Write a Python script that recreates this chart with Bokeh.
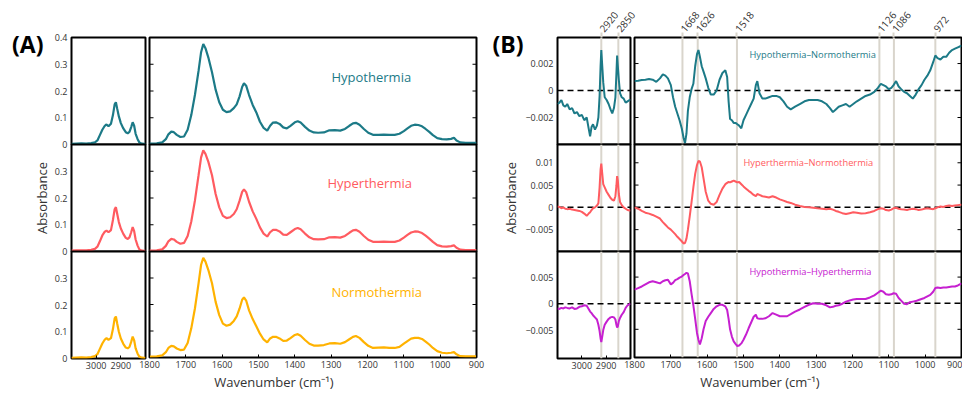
from bokeh.plotting import figure
from bokeh.layouts import row, column
from bokeh.models import (Range1d, FixedTicker, LinearAxis, Span, CustomJSTickFormatter)
from bokeh.embed import file_html
from bokeh.resources import INLINE

# ---------------- data (A) ----------------
wn_ch = [3100, 3080, 3060, 3040, 3020, 3005, 2995, 2985, 2975, 2965, 2958, 2950, 2940, 2932, 2925, 2920,
         2915, 2908, 2900, 2890, 2880, 2872, 2865, 2858, 2852, 2846, 2840, 2832, 2825, 2815, 2805, 2800]
hypo_ch = [0.002, 0.003, 0.004, 0.003, 0.005, 0.008, 0.015, 0.035, 0.055, 0.070, 0.075, 0.068, 0.078, 0.110, 0.150, 0.158,
           0.135, 0.105, 0.080, 0.060, 0.046, 0.042, 0.047, 0.065, 0.083, 0.070, 0.040, 0.020, 0.008, 0.003, 0.002, 0.002]
hyper_ch = [0.003, 0.004, 0.004, 0.004, 0.006, 0.010, 0.018, 0.038, 0.060, 0.074, 0.078, 0.072, 0.080, 0.118, 0.158, 0.166,
            0.142, 0.110, 0.086, 0.066, 0.051, 0.047, 0.053, 0.072, 0.091, 0.076, 0.045, 0.022, 0.008, 0.003, 0.002, 0.002]
normo_ch = [0.002, 0.003, 0.004, 0.003, 0.005, 0.009, 0.016, 0.036, 0.056, 0.071, 0.076, 0.070, 0.076, 0.110, 0.150, 0.157,
            0.132, 0.100, 0.075, 0.055, 0.041, 0.038, 0.043, 0.062, 0.082, 0.068, 0.038, 0.018, 0.007, 0.003, 0.002, 0.002]

wn_fp = [1800, 1780, 1765, 1755, 1748, 1740, 1733, 1725, 1715, 1705,
         1695, 1685, 1675, 1665, 1658, 1652, 1646, 1638, 1628, 1618,
         1608, 1598, 1588, 1578, 1568, 1560, 1552, 1545, 1540, 1534,
         1526, 1516, 1506, 1496, 1486, 1476, 1468, 1460, 1452, 1442,
         1432, 1422, 1412, 1400, 1392, 1384, 1372, 1360, 1348, 1336,
         1320, 1305, 1290, 1275, 1262, 1250, 1240, 1232, 1222, 1210,
         1198, 1185, 1170, 1155, 1140, 1125, 1112, 1100, 1090, 1080,
         1070, 1060, 1050, 1040, 1030, 1020, 1008, 995, 982, 970,
         962, 955, 945, 930, 915, 900]
hypo_fp = [0.003, 0.004, 0.008, 0.020, 0.038, 0.048, 0.046, 0.036, 0.028, 0.030,
           0.055, 0.110, 0.185, 0.275, 0.345, 0.376, 0.360, 0.325, 0.270, 0.205,
           0.158, 0.130, 0.121, 0.124, 0.136, 0.150, 0.180, 0.215, 0.229, 0.220,
           0.185, 0.148, 0.120, 0.085, 0.062, 0.052, 0.070, 0.082, 0.083, 0.077,
           0.064, 0.060, 0.070, 0.083, 0.087, 0.082, 0.066, 0.052, 0.045, 0.044,
           0.045, 0.053, 0.054, 0.052, 0.058, 0.070, 0.079, 0.081, 0.074, 0.058,
           0.044, 0.036, 0.036, 0.037, 0.036, 0.036, 0.040, 0.050, 0.060, 0.070,
           0.074, 0.073, 0.068, 0.058, 0.047, 0.035, 0.024, 0.020, 0.019, 0.021,
           0.025, 0.015, 0.008, 0.006, 0.006, 0.006]
hyper_fp = [0.003, 0.004, 0.008, 0.021, 0.038, 0.047, 0.045, 0.036, 0.029, 0.032,
            0.058, 0.112, 0.190, 0.285, 0.352, 0.378, 0.365, 0.335, 0.285, 0.215,
            0.165, 0.133, 0.125, 0.128, 0.140, 0.158, 0.190, 0.223, 0.232, 0.222,
            0.186, 0.150, 0.122, 0.090, 0.067, 0.056, 0.072, 0.081, 0.081, 0.075,
            0.063, 0.062, 0.072, 0.084, 0.088, 0.083, 0.067, 0.053, 0.046, 0.045,
            0.046, 0.053, 0.054, 0.052, 0.058, 0.070, 0.079, 0.081, 0.074, 0.058,
            0.044, 0.036, 0.036, 0.037, 0.036, 0.036, 0.041, 0.052, 0.062, 0.071,
            0.075, 0.074, 0.069, 0.059, 0.048, 0.036, 0.024, 0.019, 0.018, 0.020,
            0.023, 0.014, 0.007, 0.005, 0.005, 0.005]
normo_fp = [0.003, 0.004, 0.008, 0.020, 0.036, 0.044, 0.042, 0.034, 0.028, 0.030,
            0.055, 0.110, 0.185, 0.280, 0.350, 0.376, 0.362, 0.330, 0.280, 0.210,
            0.160, 0.128, 0.120, 0.124, 0.138, 0.155, 0.185, 0.218, 0.227, 0.215,
            0.178, 0.145, 0.118, 0.090, 0.068, 0.057, 0.072, 0.078, 0.078, 0.072,
            0.063, 0.064, 0.073, 0.085, 0.088, 0.082, 0.066, 0.052, 0.045, 0.045,
            0.047, 0.053, 0.054, 0.052, 0.058, 0.069, 0.078, 0.081, 0.074, 0.058,
            0.044, 0.036, 0.037, 0.038, 0.036, 0.036, 0.040, 0.052, 0.062, 0.071,
            0.074, 0.074, 0.070, 0.060, 0.049, 0.036, 0.024, 0.018, 0.016, 0.018,
            0.020, 0.012, 0.005, 0.004, 0.004, 0.004]

# ---------------- data (B) ----------------
wn_ch_b = [3100, 3092, 3084, 3076, 3068, 3060, 3050, 3040, 3030, 3020,
           3010, 3000, 2990, 2980, 2972, 2966, 2960, 2954, 2946, 2938,
           2932, 2927, 2923, 2920, 2916, 2912, 2906, 2898, 2890, 2882,
           2875, 2868, 2862, 2858, 2855, 2852, 2848, 2843, 2836, 2828,
           2820, 2812, 2804, 2800]
hn_ch = [-0.0010, -0.0009, -0.0007, -0.0011, -0.0012, -0.0010, -0.0014, -0.0013, -0.0017, -0.0016,
         -0.0019, -0.0018, -0.0022, -0.0020, -0.0028, -0.0034, -0.0027, -0.0025, -0.0029, -0.0026,
         -0.0020, -0.0004, 0.0018, 0.0030, 0.0018, 0.0006, -0.0005, -0.0007, -0.0010, -0.0014,
         -0.0017, -0.0013, -0.0005, 0.0012, 0.0026, 0.0018, 0.0008, -0.0002, -0.0005, -0.0006,
         -0.0009, -0.0008, -0.0007, -0.0007]
hyn_ch = [0.0002, 0.0001, -0.0002, 0.0000, -0.0003, -0.0004, -0.0003, -0.0005, -0.0006, -0.0007,
          -0.0008, -0.0010, -0.0014, -0.0019, -0.0014, -0.0011, -0.0006, -0.0002, 0.0000, 0.0004,
          0.0009, 0.0045, 0.0085, 0.0098, 0.0075, 0.0052, 0.0045, 0.0035, 0.0028, 0.0021,
          0.0017, 0.0015, 0.0025, 0.0048, 0.0070, 0.0060, 0.0030, 0.0012, 0.0005, 0.0000,
          -0.0003, -0.0006, -0.0007, -0.0007]
hh_ch = [-0.0009, -0.0010, -0.0008, -0.0009, -0.0007, -0.0008, -0.0009, -0.0007, -0.0010, -0.0009,
         -0.0006, -0.0005, -0.0003, -0.0004, -0.0010, -0.0015, -0.0018, -0.0022, -0.0026, -0.0030,
         -0.0040, -0.0052, -0.0066, -0.0073, -0.0062, -0.0050, -0.0040, -0.0034, -0.0029, -0.0026,
         -0.0025, -0.0026, -0.0030, -0.0040, -0.0045, -0.0043, -0.0033, -0.0027, -0.0021, -0.0016,
         -0.0008, -0.0003, -0.0001, 0.0000]

wn_fp_b = [1800, 1790, 1780, 1770, 1760, 1750, 1740, 1730, 1722, 1715,
           1708, 1700, 1694, 1688, 1682, 1676, 1670, 1665, 1661, 1657,
           1653, 1648, 1643, 1638, 1633, 1628, 1624, 1620, 1615, 1610,
           1604, 1597, 1590, 1582, 1574, 1566, 1558, 1550, 1545, 1541,
           1537, 1532, 1527, 1522, 1517, 1512, 1506, 1500, 1493, 1486,
           1479, 1472, 1466, 1462, 1456, 1448, 1440, 1430, 1420, 1410,
           1400, 1390, 1380, 1370, 1358, 1345, 1332, 1320, 1308, 1296,
           1284, 1272, 1262, 1254, 1246, 1238, 1228, 1218, 1208, 1198,
           1188, 1176, 1164, 1152, 1140, 1130, 1122, 1115, 1108, 1100,
           1093, 1087, 1080, 1073, 1066, 1058, 1050, 1042, 1034, 1026,
           1018, 1010, 1002, 994, 986, 978, 972, 966, 958, 950,
           942, 934, 926, 918, 910, 902, 900]
hn_fp = [0.0007, 0.00072, 0.00078, 0.0008, 0.00085, 0.0008, 0.00065, 0.0009, 0.0012, 0.0011,
         0.0009, 0.0004, -0.0005, -0.0012, -0.0017, -0.0022, -0.0028, -0.0035, -0.0039, -0.0032,
         -0.0015, -0.0005, 0.0001, 0.0005, 0.0018, 0.0027, 0.0030, 0.0025, 0.0018, 0.0014,
         0.0009, 0.0002, -0.0003, -0.0003, 0.0000, 0.0008, 0.0013, 0.0015, 0.0010, -0.0008,
         -0.0021, -0.0022, -0.0024, -0.0024, -0.0025, -0.0026, -0.0028, -0.0022, -0.0018, -0.0014,
         -0.0010, -0.0006, 0.0004, 0.0007, -0.0002, -0.0006, -0.0006, -0.0005, -0.0004, -0.0004,
         -0.0005, -0.0008, -0.0012, -0.0014, -0.0012, -0.0010, -0.0008, -0.0007, -0.0007, -0.0007,
         -0.0008, -0.0010, -0.0013, -0.0016, -0.0014, -0.0012, -0.0011, -0.0010, -0.0012, -0.0010,
         -0.0008, -0.0006, -0.0004, -0.0003, -0.0001, 0.0002, 0.0005, 0.0004, 0.0003, 0.0001,
         0.0002, 0.0004, 0.0007, 0.0003, 0.0001, -0.0001, -0.0002, -0.0004, -0.0006, -0.0003,
         0.0001, 0.0004, 0.0008, 0.0011, 0.0015, 0.0021, 0.0026, 0.0024, 0.0023, 0.0025,
         0.0025, 0.0028, 0.0030, 0.0031, 0.0032, 0.0033, 0.0033]
hyn_fp = [0.0000, -0.0003, -0.0008, -0.0012, -0.0014, -0.0017, -0.0021, -0.0025, -0.0033, -0.0039,
          -0.0045, -0.0050, -0.0055, -0.0060, -0.0066, -0.0071, -0.0076, -0.0081, -0.0080, -0.0070,
          -0.0050, -0.0020, 0.0012, 0.0045, 0.0075, 0.0095, 0.0104, 0.0103, 0.0090, 0.0065,
          0.0035, 0.0015, 0.0008, 0.0006, 0.0012, 0.0028, 0.0042, 0.0052, 0.0055, 0.0057,
          0.0056, 0.0058, 0.0060, 0.0058, 0.0056, 0.0057, 0.0052, 0.0047, 0.0042, 0.0037,
          0.0033, 0.0028, 0.0025, 0.0030, 0.0028, 0.0025, 0.0024, 0.0022, 0.0025, 0.0022,
          0.0018, 0.0015, 0.0012, 0.0010, 0.0006, 0.0003, 0.0001, 0.0000, -0.0001, -0.0002,
          -0.0003, -0.0004, -0.0003, -0.0005, -0.0008, -0.0010, -0.0013, -0.0015, -0.0013, -0.0011,
          -0.0012, -0.0014, -0.0013, -0.0011, -0.0008, -0.0004, -0.0002, -0.0003, -0.0006, -0.0007,
          -0.0005, -0.0002, -0.0001, -0.0003, -0.0004, -0.0005, -0.0006, -0.0004, -0.0003, -0.0004,
          -0.0006, -0.0005, -0.0003, -0.0002, -0.0003, -0.0004, -0.0002, 0.0000, 0.0002, 0.0001,
          0.0003, 0.0004, 0.0003, 0.0004, 0.0005, 0.0006, 0.0006]
hh_fp = [0.0026, 0.0029, 0.0032, 0.0036, 0.0040, 0.0042, 0.0040, 0.0038, 0.0042, 0.0044,
         0.0045, 0.0036, 0.0039, 0.0044, 0.0046, 0.0049, 0.0051, 0.0054, 0.0056, 0.0058,
         0.0057, 0.0042, 0.0018, -0.0004, -0.0030, -0.0057, -0.0070, -0.0079, -0.0067, -0.0050,
         -0.0034, -0.0026, -0.0019, -0.0011, -0.0006, -0.0003, -0.0003, -0.0006, -0.0013, -0.0030,
         -0.0050, -0.0064, -0.0073, -0.0078, -0.0082, -0.0081, -0.0077, -0.0070, -0.0060, -0.0048,
         -0.0037, -0.0026, -0.0022, -0.0029, -0.0030, -0.0030, -0.0029, -0.0025, -0.0019, -0.0022,
         -0.0025, -0.0025, -0.0025, -0.0021, -0.0016, -0.0012, -0.0007, -0.0003, 0.0000, -0.0001,
         -0.0001, -0.0004, -0.0008, -0.0007, -0.0005, -0.0004, -0.0001, 0.0003, 0.0005, 0.0007,
         0.0008, 0.0008, 0.0008, 0.0011, 0.0015, 0.0020, 0.0024, 0.0022, 0.0017, 0.0016,
         0.0017, 0.0019, 0.0018, 0.0010, 0.0005, -0.0001, -0.0002, 0.0002, 0.0003, 0.0004,
         0.0006, 0.0008, 0.0010, 0.0013, 0.0016, 0.0022, 0.0029, 0.0030, 0.0029, 0.0030,
         0.0030, 0.0031, 0.0032, 0.0032, 0.0034, 0.0037, 0.0037]

markers_ch = [2920, 2850]
markers_fp = [1668, 1626, 1518, 1126, 1086, 972]

a_names = ["Hypothermia", "Hyperthermia", "Normothermia"]
b_names = ["Hypothermia\u2013Normothermia", "Hyperthermia\u2013Normothermia", "Hypothermia\u2013Hyperthermia"]

a_yticks = [[0, 0.1, 0.2, 0.3, 0.4], [0, 0.1, 0.2, 0.3], [0, 0.1, 0.2, 0.3]]
b_yticks = [[-0.002, 0, 0.002], [-0.005, 0, 0.005, 0.01], [-0.005, 0, 0.005]]
ch_xticks = [3000, 2900]
fp_xticks = [1800, 1700, 1600, 1500, 1400, 1300, 1200, 1100, 1000, 900]
x_label = "Wavenumber (cm\u207b\u00b9)"
y_label = "Absorbance"

# ---------------- style / layout ----------------
TEAL = "#1c7a87"
RED = "#ff5b60"
ORANGE = "#ffb200"
MAGENTA = "#c620d0"
GRAY = "#d9d5cc"
TXT = "#333333"
FONT = "Open Sans"
MARK_ANGLE = 0.88

a_colors = [TEAL, RED, ORANGE]
b_colors = [TEAL, RED, MAGENTA]

ch_range = (3100, 2800)
fp_range = (1800, 900)
a_yr = [(0, 0.4), (0, 0.4), (0, 0.4)]
b_yr = [(-0.004, 0.00393), (-0.0099, 0.0141), (-0.0104, 0.0099)]

# (border_left, frame_width, border_right, margin_left) for the four columns
COLS = [(71, 74, 2, 0), (12, 327, 56, -10), (79, 73, 12, -54), (12, 327, 1, -20)]
FRAME_LEFT = [71, 149, 557, 634]
# (border_top, frame_height, border_bottom, margin_top) for the three rows
ROWS = [(37, 107, 8, 0), (8, 107, 8, -16), (8, 107, 35, -16)]
FRAME_TOP = [37, 144, 251]

Y_CODE = """
if (Math.abs(tick) < 1e-12) { return "0"; }
const s = String(parseFloat(Math.abs(tick).toPrecision(6)));
return (tick < 0 ? "\\u2212" : "") + s;
"""


def text_fmt(txt):
    return CustomJSTickFormatter(args=dict(txt=txt), code="return txt;")


def make_fig(ci, ri, xr, yr):
    bl, fw, br, _ = COLS[ci]
    bt, fh, bb, mt = ROWS[ri]
    p = figure(width=bl + fw + br, height=bt + fh + bb,
               x_range=Range1d(*xr), y_range=Range1d(*yr),
               x_axis_type=None, y_axis_type=None, output_backend="svg",
               toolbar_location=None, min_border_left=bl, min_border_right=br,
               min_border_top=bt, min_border_bottom=bb, margin=(mt, 0, 0, 0))
    p.outline_line_color = "black"
    p.outline_line_width = 2
    p.outline_line_alpha = 1.0
    p.background_fill_color = "white"
    p.border_fill_color = None
    return p


def add_axis(p, side, ticks, fmt=None, font_size="9px", tick_in=0, tick_out=0,
             tick_color="black", tick_width=1, standoff=4, bold=False,
             color=TXT, orientation=None, label=None, label_standoff=1):
    ax = LinearAxis(ticker=FixedTicker(ticks=ticks, minor_ticks=[]))
    ax.axis_line_color = None
    ax.major_tick_in = tick_in
    ax.major_tick_out = tick_out
    ax.major_tick_line_color = tick_color
    ax.major_tick_line_width = tick_width
    ax.minor_tick_line_color = None
    if fmt is not None:
        ax.formatter = fmt
    ax.major_label_text_font = FONT
    ax.major_label_text_font_size = font_size
    ax.major_label_text_color = color
    ax.major_label_standoff = standoff
    if bold:
        ax.major_label_text_font_style = "bold"
    if orientation is not None:
        ax.major_label_orientation = orientation
    if label:
        ax.axis_label = label
        ax.axis_label_text_font = FONT
        ax.axis_label_text_font_size = "13px"
        ax.axis_label_text_font_style = "normal"
        ax.axis_label_text_color = TXT
        ax.axis_label_standoff = label_standoff
    p.add_layout(ax, side)
    return ax


def inner_ticks(p, xr, ticks):
    n = len(ticks)
    p.scatter(x=[xr[0]] * n, y=ticks, marker="dash", size=8, line_color="black", line_width=1)
    p.scatter(x=[xr[1]] * n, y=ticks, marker="dash", size=8, line_color="black", line_width=1)


def frame_y(yr, ri, img_y):
    fh = ROWS[ri][1]
    return yr[1] - (img_y - FRAME_TOP[ri]) * (yr[1] - yr[0]) / fh


def frame_x(xr, ci, img_x):
    fw = COLS[ci][1]
    return xr[0] + (img_x - FRAME_LEFT[ci]) * (xr[1] - xr[0]) / fw


a_ch_series = [hypo_ch, hyper_ch, normo_ch]
a_fp_series = [hypo_fp, hyper_fp, normo_fp]
b_ch_series = [hn_ch, hyn_ch, hh_ch]
b_fp_series = [hn_fp, hyn_fp, hh_fp]

cols = [[], [], [], []]

for i in range(3):
    # ---- panel A, C-H stretch region ----
    p = make_fig(0, i, ch_range, a_yr[i])
    p.line(wn_ch, a_ch_series[i], line_color=a_colors[i], line_width=2.2)
    add_axis(p, "left", a_yticks[i], fmt=CustomJSTickFormatter(code=Y_CODE),
             label=(y_label if i == 1 else None), label_standoff=1)
    if i == 0:
        add_axis(p, "left", [frame_y(a_yr[0], 0, 43)], fmt=text_fmt("(A)"), font_size="23px",
                 bold=True, color="black", standoff=8, tick_color=None)
    if i == 2:
        add_axis(p, "below", ch_xticks, tick_in=3, standoff=3)
    cols[0].append(p)

    # ---- panel A, fingerprint region ----
    p = make_fig(1, i, fp_range, a_yr[i])
    p.line(wn_fp, a_fp_series[i], line_color=a_colors[i], line_width=2.2)
    inner_ticks(p, fp_range, [0.1, 0.2, 0.3])
    p.text(x=[frame_x(fp_range, 1, [331, 327, 331][i])], y=[frame_y(a_yr[i], i, [76, 182, 291.5][i])],
           text=[a_names[i]], text_color=a_colors[i], text_font_size="13px",
           text_baseline="middle", text_align="left", text_font={"value": FONT})
    if i == 0:
        # panel letter of the right-hand half, placed in the gap between the halves
        add_axis(p, "right", [frame_y(a_yr[0], 0, 43)], fmt=text_fmt("(B)"), font_size="23px",
                 bold=True, color="black", standoff=16, tick_color=None)
    if i == 2:
        add_axis(p, "below", fp_xticks, tick_in=3, standoff=3)
        add_axis(p, "below", [frame_x(fp_range, 1, 273.5)], fmt=text_fmt(x_label),
                 font_size="13px", standoff=2, tick_color=None)
    cols[1].append(p)

    # ---- panel B, C-H stretch region ----
    p = make_fig(2, i, ch_range, b_yr[i])
    for m in markers_ch:
        p.add_layout(Span(location=m, dimension="height", line_color=GRAY, line_width=2, level="underlay"))
    p.add_layout(Span(location=0, dimension="width", line_color="black", line_width=1.5,
                      line_dash="6 4", level="underlay"))
    p.line(wn_ch_b, b_ch_series[i], line_color=b_colors[i], line_width=2)
    add_axis(p, "left", b_yticks[i], fmt=CustomJSTickFormatter(code=Y_CODE),
             label=(y_label if i == 1 else None), label_standoff=2)
    if i == 0:
        add_axis(p, "above", markers_ch, tick_out=5, tick_color=GRAY, tick_width=2,
                 font_size="10px", standoff=2, orientation=MARK_ANGLE)
    if i == 2:
        add_axis(p, "below", ch_xticks, tick_in=3, standoff=3)
    cols[2].append(p)

    # ---- panel B, fingerprint region ----
    p = make_fig(3, i, fp_range, b_yr[i])
    for m in markers_fp:
        p.add_layout(Span(location=m, dimension="height", line_color=GRAY, line_width=2, level="underlay"))
    p.add_layout(Span(location=0, dimension="width", line_color="black", line_width=1.5,
                      line_dash="6 4", level="underlay"))
    p.line(wn_fp_b, b_fp_series[i], line_color=b_colors[i], line_width=2)
    inner_ticks(p, fp_range, [t for t in b_yticks[i] if t != 0])
    p.text(x=[frame_x(fp_range, 3, [749, 743, 749][i])], y=[frame_y(b_yr[i], i, [54, 162, 270.7][i])],
           text=[b_names[i]], text_color=b_colors[i], text_font_size="9.3px",
           text_baseline="middle", text_align="left", text_font={"value": FONT})
    if i == 0:
        add_axis(p, "above", markers_fp, tick_out=5, tick_color=GRAY, tick_width=2,
                 font_size="10px", standoff=2, orientation=MARK_ANGLE)
    if i == 2:
        add_axis(p, "below", fp_xticks, tick_in=3, standoff=3)
        add_axis(p, "below", [frame_x(fp_range, 3, 759.5)], fmt=text_fmt(x_label),
                 font_size="13px", standoff=2, tick_color=None)
    cols[3].append(p)

layout = row(*[column(*cols[c], margin=(0, 0, 0, COLS[c][3])) for c in range(4)])

open("out.html", "w").write(file_html(layout, INLINE))
